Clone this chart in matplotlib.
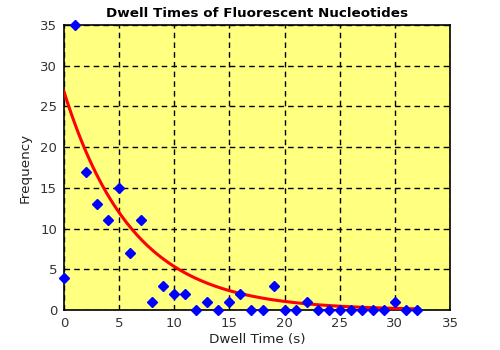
import matplotlib
matplotlib.use('Agg')
import matplotlib.pyplot as plt
import numpy as np

# observed dwell-time histogram
dwell = list(range(0, 33))
freq = [4, 35, 17, 13, 11, 15, 7, 11, 1, 3, 2, 2, 0, 1, 0, 1, 2, 0, 0, 3,
        0, 0, 1, 0, 0, 0, 0, 0, 0, 0, 1, 0, 0]

# exponential fit parameters
amp = 26.8
tau = 6.2

fig = plt.figure(figsize=(5, 3.5), dpi=100)
ax = fig.add_axes([0.128, 0.114, 0.772, 0.815])
ax.set_facecolor('#ffff80')

t = np.linspace(0, 32, 200)
ax.plot(t, amp * np.exp(-t / tau), color='red', lw=2.2, zorder=3)
ax.plot(dwell, freq, 'D', color='blue', ms=5.5, mec='blue', zorder=4, clip_on=False)

ax.set_xlim(0, 35)
ax.set_ylim(0, 35)
ax.set_xticks(range(0, 36, 5))
ax.set_yticks(range(0, 36, 5))
ax.grid(True, color='black', ls=(0, (4, 3)), lw=1)
ax.set_axisbelow(True)
ax.tick_params(length=0, labelsize=9.5, pad=5, colors='#333333')
for s in ax.spines.values():
    s.set_color('black')
    s.set_linewidth(1.2)

ax.set_title('Dwell Times of Fluorescent Nucleotides', fontsize=9.7, fontweight='bold', pad=6)
ax.set_xlabel('Dwell Time (s)', fontsize=9.7, labelpad=2, color='#222222')
ax.set_ylabel('Frequency', fontsize=9.7, labelpad=6, color='#222222')

fig.savefig('out.png', dpi=100)
